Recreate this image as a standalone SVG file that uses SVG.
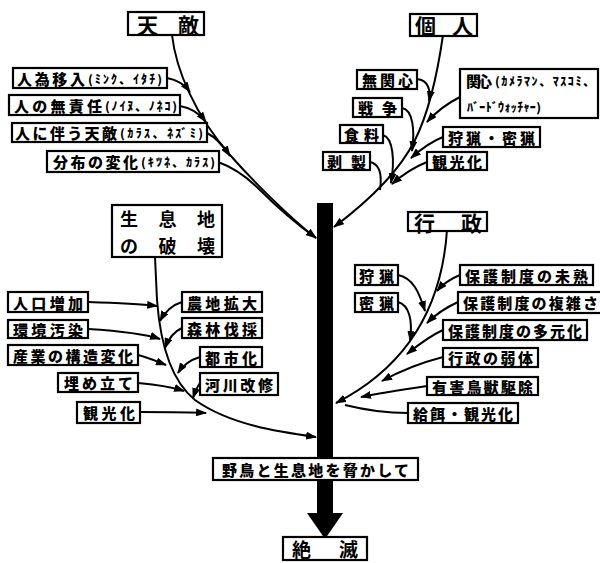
<svg xmlns="http://www.w3.org/2000/svg" width="600" height="563" viewBox="0 0 600 563">
<defs>
<marker id="ah" markerWidth="11" markerHeight="8" refX="10" refY="4" orient="auto" markerUnits="userSpaceOnUse">
<path d="M0,0 L11,4 L0,8 Z" fill="#000"/>
</marker>
<style>
rect.b{fill:#fff;stroke:#000;stroke-width:2.2}
text{font-family:"Noto Sans CJK JP","Noto Sans CJK SC",sans-serif;font-weight:900;fill:#000;dominant-baseline:central}
.l{font-size:15px}
.h{font-size:21px;font-weight:700}
.h2{font-size:19px;font-weight:700}
.h3{font-size:18px;font-weight:700}
.p{font-size:12px}
.c path{fill:none;stroke:#000;stroke-width:2}
.c path.a{marker-end:url(#ah)}
</style>
</defs>
<rect width="600" height="563" fill="#fff"/>

<g class="c" id="connectors">
<!-- 天敵 stem -->
<path class="a" d="M172,35 C176,70 195,115 230,155 C252,180 290,218 316,238"/>
<path class="a" d="M167,78 C178,80 185,85 190,92"/>
<path class="a" d="M180,106 C192,108 200,114 206,122"/>
<path class="a" d="M207,133 C217,138 224,147 230,156"/>
<path d="M218,162 C235,168 248,178 260,190 C280,210 298,225 316,238"/>
<!-- 個人 stem -->
<path class="a" d="M443,35 C438,70 430,110 415,140 C400,170 370,200 334,227"/>
<path class="a" d="M417,79 C428,80 431,90 429,101"/>
<path class="a" d="M460,97 C446,104 436,112 427,122"/>
<path class="a" d="M402,108 C413,110 415,130 412,151"/>
<path class="a" d="M443,137 C430,142 420,150 411,158"/>
<path class="a" d="M383,135 C393,138 395,160 391,183"/>
<path class="a" d="M427,162 C412,168 401,176 392,184"/>
<path d="M370,162 C380,164 382,176 380,190"/>
<!-- 行政 stem -->
<path class="a" d="M447,230 C443,290 420,360 336,403"/>
<path class="a" d="M460,275 C450,279 443,284 437,291"/>
<path class="a" d="M398,275 C413,278 419,292 425,311"/>
<path class="a" d="M458,302 C445,308 435,315 427,323"/>
<path class="a" d="M398,302 C409,305 413,320 410,341"/>
<path class="a" d="M443,330 C432,335 418,345 407,354"/>
<path class="a" d="M443,357 C420,363 400,371 382,381"/>
<path class="a" d="M427,386 C400,390 380,393 361,397"/>
<path d="M408,413 C385,413 365,410 345,405"/>
<!-- 生息地の破壊 stem -->
<path class="a" d="M155,257 L157,300 C160,340 170,380 195,400 C230,425 280,432 316,437"/>
<path class="a" d="M88,302 C120,303 140,304 157,306"/>
<path class="a" d="M182,302 C172,305 165,312 160,321"/>
<path class="a" d="M88,329 C120,331 145,334 160,339"/>
<path class="a" d="M182,328 C173,332 168,340 165,348"/>
<path class="a" d="M138,355 C150,358 158,362 166,365"/>
<path class="a" d="M200,357 C190,360 183,365 178,373"/>
<path class="a" d="M138,383 C160,385 175,388 184,391"/>
<path class="a" d="M200,383 C197,387 195,392 193,398"/>
<path class="a" d="M140,412 C170,412 190,412 206,413"/>
</g>

<g id="trunk">
<rect x="317" y="203" width="16" height="311" fill="#000"/>
<polygon points="307,513 343,513 325,539" fill="#000"/>
</g>

<g id="n-tenteki"><rect class="b" x="128" y="12" width="76" height="23"/><text class="h" x="137" y="23.5" textLength="62">天敵</text></g>
<g id="n-t1"><rect class="b" x="13" y="68" width="154" height="20"/><text class="l" x="17" y="78" textLength="68">人為移入</text><text class="p" x="88" y="78" textLength="74">(ﾐﾝｸ、ｲﾀﾁ)</text></g>
<g id="n-t2"><rect class="b" x="9" y="95" width="171" height="20"/><text class="l" x="14" y="105" textLength="88">人の無責任</text><text class="p" x="105" y="105" textLength="72">(ﾉｲﾇ、ﾉﾈｺ)</text></g>
<g id="n-t3"><rect class="b" x="12" y="123" width="195" height="19"/><text class="l" x="15" y="132.5" textLength="102">人に伴う天敵</text><text class="p" x="120" y="132.5" textLength="83">(ｶﾗｽ、ﾈｽﾞﾐ)</text></g>
<g id="n-t4"><rect class="b" x="47" y="151" width="172" height="21"/><text class="l" x="53" y="161.5" textLength="85">分布の変化</text><text class="p" x="141" y="161.5" textLength="74">(ｷﾂﾈ、ｶﾗｽ)</text></g>

<g id="n-kojin"><rect class="b" x="410" y="14" width="67" height="22"/><text class="h" x="415" y="25" textLength="58">個人</text></g>
<g id="n-k1"><rect class="b" x="357" y="70" width="60" height="19"/><text class="l" x="362" y="79.5" textLength="51">無関心</text></g>
<g id="n-k2"><rect class="b" x="460" y="69" width="138" height="49"/><text class="l" x="466" y="80" textLength="26">関心</text><text class="p" x="495" y="80" textLength="100">(ｶﾒﾗﾏﾝ、ﾏｽｺﾐ、</text><text class="p" x="467" y="106" textLength="74">ﾊﾞｰﾄﾞｳｫｯﾁｬｰ)</text></g>
<g id="n-k3"><rect class="b" x="353" y="98" width="49" height="19"/><text class="l" x="358" y="107.5" textLength="39">戦争</text></g>
<g id="n-k4"><rect class="b" x="340" y="125" width="43" height="18"/><text class="l" x="344" y="134" textLength="35">食料</text></g>
<g id="n-k5"><rect class="b" x="443" y="127" width="97" height="20"/><text class="l" x="448" y="137" textLength="87">狩猟・密猟</text></g>
<g id="n-k6"><rect class="b" x="323" y="152" width="47" height="18"/><text class="l" x="327" y="161" textLength="39">剥製</text></g>
<g id="n-k7"><rect class="b" x="427" y="152" width="60" height="18"/><text class="l" x="432" y="161" textLength="50">観光化</text></g>

<g id="n-gyosei"><rect class="b" x="408" y="212" width="79" height="19"/><text class="h" x="414" y="221.5" textLength="68">行政</text></g>
<g id="n-g1"><rect class="b" x="355" y="265" width="43" height="20"/><text class="l" x="359" y="275" textLength="35">狩猟</text></g>
<g id="n-g2"><rect class="b" x="355" y="293" width="43" height="19"/><text class="l" x="359" y="302.5" textLength="35">密猟</text></g>
<g id="n-g3"><rect class="b" x="460" y="265" width="133" height="20"/><text class="l" x="465" y="275" textLength="123">保護制度の未熟</text></g>
<g id="n-g4"><rect class="b" x="458" y="292" width="146" height="21"/><text class="l" x="463" y="302.5" textLength="135">保護制度の複雑さ</text></g>
<g id="n-g5"><rect class="b" x="443" y="320" width="144" height="20"/><text class="l" x="448" y="330" textLength="134">保護制度の多元化</text></g>
<g id="n-g6"><rect class="b" x="443" y="348" width="95" height="19"/><text class="l" x="448" y="357.5" textLength="85">行政の弱体</text></g>
<g id="n-g7"><rect class="b" x="427" y="377" width="111" height="18"/><text class="l" x="432" y="386" textLength="101">有害鳥獣駆除</text></g>
<g id="n-g8"><rect class="b" x="408" y="403" width="110" height="20"/><text class="l" x="413" y="413" textLength="100">給餌・観光化</text></g>

<g id="n-hakai"><rect class="b" x="112" y="205" width="110" height="52"/><text class="h3" x="120" y="218" textLength="95">生息地</text><text class="h3" x="120" y="245" textLength="95">の破壊</text></g>
<g id="n-h1"><rect class="b" x="8" y="292" width="80" height="20"/><text class="l" x="13" y="302" textLength="70">人口増加</text></g>
<g id="n-h2"><rect class="b" x="8" y="320" width="80" height="18"/><text class="l" x="13" y="329" textLength="70">環境汚染</text></g>
<g id="n-h3"><rect class="b" x="8" y="345" width="130" height="20"/><text class="l" x="13" y="355" textLength="120">産業の構造変化</text></g>
<g id="n-h4"><rect class="b" x="58" y="373" width="80" height="19"/><text class="l" x="64" y="382.5" textLength="69">埋め立て</text></g>
<g id="n-h5"><rect class="b" x="77" y="402" width="63" height="21"/><text class="l" x="83" y="412.5" textLength="52">観光化</text></g>
<g id="n-h6"><rect class="b" x="182" y="292" width="80" height="20"/><text class="l" x="187" y="302" textLength="70">農地拡大</text></g>
<g id="n-h7"><rect class="b" x="182" y="318" width="80" height="20"/><text class="l" x="187" y="328" textLength="70">森林伐採</text></g>
<g id="n-h8"><rect class="b" x="200" y="347" width="62" height="20"/><text class="l" x="205" y="357" textLength="52">都市化</text></g>
<g id="n-h9"><rect class="b" x="200" y="373" width="78" height="22"/><text class="l" x="205" y="384" textLength="68">河川改修</text></g>

<g id="n-odokashi"><rect class="b" x="213" y="458" width="205" height="22"/><text class="l" x="222" y="469" textLength="187">野鳥と生息地を脅かして</text></g>
<g id="n-zetsumetsu"><rect class="b" x="283" y="537" width="84" height="23"/><text class="h2" x="292" y="548" textLength="66">絶滅</text></g>
</svg>
